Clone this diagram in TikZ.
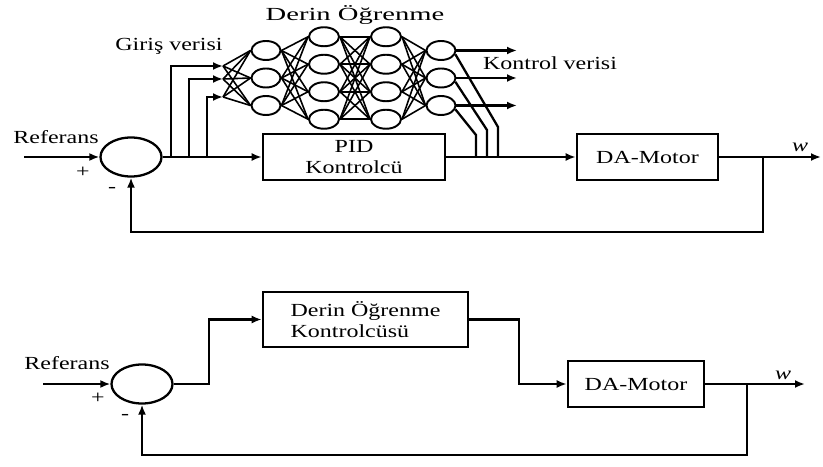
\documentclass[tikz,border=0pt]{standalone}
\usepackage{fontspec}
\setmainfont{Liberation Serif}[FakeStretch=1.3]
\newfontfamily\titlefont{Liberation Serif}[FakeStretch=1.55]
\usepackage{tikz}
\usetikzlibrary{arrows.meta,positioning,calc,shapes.geometric}

\begin{document}
\begin{tikzpicture}[
  font=\fontsize{10.5}{12}\selectfont,
  block/.style={draw,line width=1.5pt,minimum height=0.92cm,align=center,inner sep=2pt},
  summer/.style={ellipse,draw,line width=1.3pt,minimum width=1.22cm,minimum height=0.78cm,inner sep=0pt},
  neuron/.style={ellipse,draw,line width=1.1pt,minimum width=0.58cm,minimum height=0.38cm,inner sep=0pt},
  edge/.style={line width=0.9pt},
  line/.style={line width=1.3pt},
  arr/.style={-{Latex[length=2mm,width=1.6mm]},line width=1.3pt}
]
\useasboundingbox (0,0) rectangle (16.46,9.32);

% ust sema: PID + derin ogrenme
\node[summer] (sum1) at (2.62,6.18) {};
\node[block,minimum width=3.64cm] (pid) at (7.08,6.18) {PID\\Kontrolcü};
\node[block,minimum width=2.82cm] (da1) at (12.95,6.18) {DA-Motor};
\coordinate (ref1) at (0.48,6.18);
\coordinate (w1) at (16.42,6.18);
\coordinate (fbk1) at (15.26,6.18);

\node (reflbl1) at (1.12,6.58) {Referans};
\node (plus1) at (1.66,5.88) {+};
\node (minus1) at (2.24,5.52) {-};
\node (wlbl1) at (16.0,6.38) {\textit{w}};
\node (title) at (7.1,9.02) {\titlefont Derin Öğrenme};
\node (girislbl) at (3.38,8.4) {Giriş verisi};
\node (kontrollbl) at (11.0,8.06) {Kontrol verisi};

% ag katmanlari
\foreach \i/\y in {1/8.31,2/7.76,3/7.21} {
  \node[neuron] (a\i) at (5.32,\y) {};
  \node[neuron] (d\i) at (8.82,\y) {};
  \coordinate (out\i) at (10.34,\y);
}
\foreach \i/\y in {1/8.585,2/8.035,3/7.485,4/6.935} {
  \node[neuron,minimum width=0.6cm] (b\i) at (6.48,\y) {};
  \node[neuron,minimum width=0.6cm] (c\i) at (7.72,\y) {};
}
\foreach \i/\x/\y in {1/3.42/8.0,2/3.78/7.74,3/4.14/7.38} {
  \coordinate (br\i) at (\x,6.18);
  \coordinate (in\i) at (4.46,\y);
}
\foreach \i/\x/\h in {1/9.96/0.6,2/9.74/0.54,3/9.52/0.44} {
  \coordinate (fb\i) at (\x,6.18);
  \coordinate (bend\i) at (\x,6.18+\h);
}

\foreach \i in {1,2,3} \foreach \j in {1,2,3} \draw[edge] (in\i) -- (a\j.west);
\foreach \i in {1,2,3} \foreach \j in {1,...,4} {
  \draw[edge] (a\i.east) -- (b\j.west);
  \draw[edge] (c\j.east) -- (d\i.west);
}
\foreach \i in {1,...,4} \foreach \j in {1,...,4} \draw[edge] (b\i.east) -- (c\j.west);

\foreach \i in {1,2,3} {
  \draw[arr] (br\i) |- (in\i);
  \draw[arr] (d\i.east) -- (out\i);
  \draw[line] (d\i.-15) -- (bend\i) -- (fb\i);
}

\draw[arr] (ref1) -- (sum1);
\draw[arr] (sum1) -- (pid);
\draw[arr] (pid) -- (da1);
\draw[arr] (da1) -- (w1);
\draw[arr] (fbk1) -- ++(0,-1.5) -| (sum1.south);

% alt sema: derin ogrenme kontrolcusu
\node[summer] (sum2) at (2.84,1.64) {};
\node[block,minimum width=4.1cm,minimum height=1.1cm,align=left] (dl) at (7.31,2.93) {Derin Öğrenme\\Kontrolcüsü};
\node[block,minimum width=2.72cm] (da2) at (12.72,1.64) {DA-Motor};
\coordinate (ref2) at (0.86,1.64);
\coordinate (w2) at (16.1,1.64);
\coordinate (fbk2) at (14.94,1.64);

\node (reflbl2) at (1.34,2.06) {Referans};
\node (plus2) at (1.96,1.36) {+};
\node (minus2) at (2.5,0.98) {-};
\node (wlbl2) at (15.66,1.82) {\textit{w}};

\draw[arr] (ref2) -- (sum2);
\draw[arr] (sum2.east) -- ++(0.7,0) |- (dl.west);
\draw[arr] (dl.east) -- ++(1.0,0) |- (da2.west);
\draw[arr] (da2) -- (w2);
\draw[arr] (fbk2) -- ++(0,-1.42) -| (sum2.south);
\end{tikzpicture}
\end{document}
